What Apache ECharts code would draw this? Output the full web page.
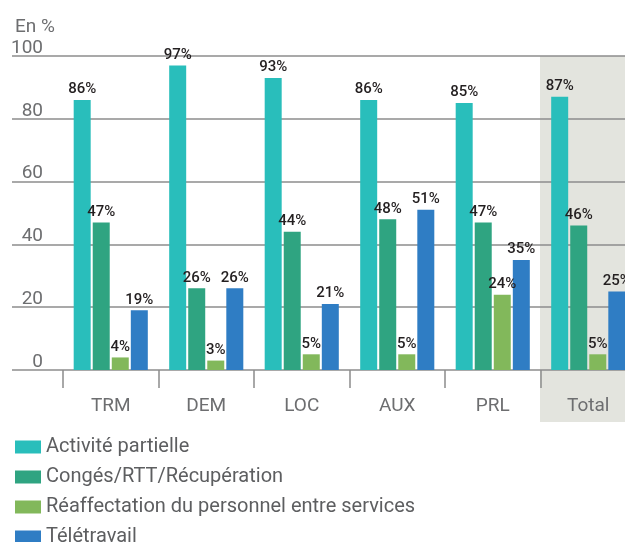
<!DOCTYPE html>
<html>
<head>
<meta charset="utf-8">
<script src="https://cdn.jsdelivr.net/npm/echarts@6/dist/echarts.min.js"></script>
<style>
  html, body { margin: 0; padding: 0; background: #fff; overflow: hidden; }
  #chart { width: 636px; height: 542px; }
</style>
</head>
<body>
<div id="chart"></div>
<script>
const categories = ['TRM', 'DEM', 'LOC', 'AUX', 'PRL', 'Total'];
const activitePartielle = [86, 97, 93, 86, 85, 87];
const conges = [47, 26, 44, 48, 47, 46];
const reaffectation = [4, 3, 5, 5, 24, 5];
const teletravail = [19, 26, 21, 51, 35, 25];
const seriesNames = [
  'Activité partielle',
  'Congés/RTT/Récupération',
  'Réaffectation du personnel entre services',
  'Télétravail'
];
const colors = ['#29bebb', '#2fa481', '#82b85b', '#2f7dc4'];

// the last category runs past the right edge of the 625px window, so the canvas is a bit wider
const chart = echarts.init(document.getElementById('chart'));
const textFont = "Roboto, 'Noto Sans', sans-serif";

function barSeries(name, data, color) {
  return {
    name: name,
    type: 'bar',
    xAxisIndex: 0,
    yAxisIndex: 0,
    data: data,
    barWidth: 17,
    barGap: '12%',
    itemStyle: { color: color },
    z: 3,
    label: {
      show: true,
      position: 'top',
      distance: 3,
      formatter: '{c}%',
      fontFamily: textFont,
      fontSize: 15,
      fontWeight: 500,
      color: '#231f20'
    }
  };
}

const option = {
  animation: false,
  title: {
    text: 'En %',
    left: 10,
    top: 13,
    textStyle: { fontFamily: textFont, fontSize: 19, fontWeight: 'normal', color: '#6d6e70' }
  },
  graphic: [{
    type: 'rect',
    shape: { x: 540, y: 56, width: 96, height: 366 },
    style: { fill: '#e3e4de' },
    z: -10
  }],
  legend: {
    orient: 'vertical',
    left: 10,
    top: 432,
    height: 140,
    itemWidth: 26,
    itemHeight: 13,
    itemGap: 10,
    icon: 'rect',
    data: seriesNames,
    textStyle: { fontFamily: textFont, fontSize: 20, color: '#5d5e60', lineHeight: 20 }
  },
  grid: [
    { left: 63, top: 56, right: 0, height: 314 },
    { left: 12, top: 56, right: 0, height: 314 }
  ],
  xAxis: [
    {
      type: 'category',
      gridIndex: 0,
      data: categories,
      offset: 6,
      axisLine: { show: false },
      axisTick: { show: true, length: 18, lineStyle: { color: '#8c8c8c', width: 1.5 } },
      axisLabel: { margin: 21, fontFamily: textFont, fontSize: 19, color: '#6d6e70' }
    },
    { type: 'value', gridIndex: 1, show: false, min: 0, max: 1 }
  ],
  yAxis: [
    { type: 'value', gridIndex: 0, min: 0, max: 100, show: false },
    {
      type: 'value',
      gridIndex: 1,
      min: 0,
      max: 100,
      interval: 20,
      axisLine: { show: false },
      axisTick: { show: false },
      splitLine: { show: true, lineStyle: { color: '#8c8c8c', width: 1.5 } },
      axisLabel: {
        inside: true,
        margin: 31,
        align: 'right',
        verticalAlign: 'bottom',
        lineHeight: 16,
        fontFamily: textFont,
        fontSize: 19,
        color: '#6d6e70'
      }
    }
  ],
  series: [
    barSeries(seriesNames[0], activitePartielle, colors[0]),
    barSeries(seriesNames[1], conges, colors[1]),
    barSeries(seriesNames[2], reaffectation, colors[2]),
    barSeries(seriesNames[3], teletravail, colors[3])
  ]
};

chart.setOption(option);
</script>
</body>
</html>
